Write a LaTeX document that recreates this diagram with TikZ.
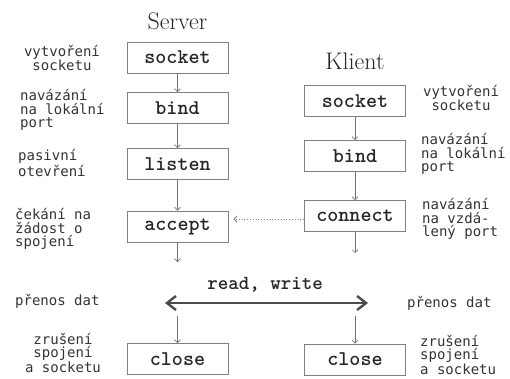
\documentclass[tikz,border=0pt]{standalone}
\usepackage{fontspec}
\usetikzlibrary{arrows.meta}
\newfontfamily\popisfont{DejaVu Sans Mono}

\begin{document}
\begin{tikzpicture}[x=1pt, y=-1pt,
  krok/.style={draw=black!50, line width=0.9pt, minimum width=101pt,
    minimum height=31pt, inner sep=0pt, text=black!85,
    font=\fontsize{21}{21}\selectfont\ttfamily\bfseries},
  popis/.style={font=\popisfont\fontsize{14}{13.5}\selectfont, align=left,
    anchor=west, inner sep=0pt, text=black!80},
  popisS/.style={popis, align=center, anchor=center},
  nadpis/.style={font=\fontsize{24}{24}\selectfont, text=black!85},
  sipka/.style={black!55, line width=0.6pt, -{Straight Barb[length=3pt,width=6pt]}},
  tecky/.style={black!50, dotted, line width=0.8pt, shorten >=5pt,
    -{Straight Barb[length=3pt,width=6pt]}},
  rwsipka/.style={black!70, line width=2.4pt,
    {Straight Barb[length=9pt,width=14pt]}-{Straight Barb[length=9pt,width=14pt]}}]

\def\SX{177.5}
\def\KX{355}

\useasboundingbox (0,0) rectangle (510,378);

% === NADPISY ===
\node[nadpis] (server) at (\SX,21) {Server};
\node[nadpis] (klient) at (\KX,61) {Klient};

% === SERVER ===
\node[krok] (s1) at (\SX,57.5) {socket};
\node[krok] (s2) at (\SX,108)  {bind};
\node[krok] (s3) at (\SX,164)  {listen};
\node[krok] (s4) at (\SX,226.5) {accept};
\node[krok] (s5) at (\SX,359)  {close};

% === KLIENT ===
\node[krok] (k1) at (\KX,101)  {socket};
\node[krok] (k2) at (\KX,156)  {bind};
\node[krok] (k3) at (\KX,216)  {connect};
\node[krok] (k4) at (\KX,359.5) {close};

% === SIPKY ===
\coordinate (s4d) at (\SX,262);
\coordinate (s5u) at (\SX,316);
\coordinate (k3d) at (\KX,253);
\coordinate (k4u) at (\KX,316);

\draw[sipka] (s1) -- (s2);
\draw[sipka] (s2) -- (s3);
\draw[sipka] (s3) -- (s4);
\draw[sipka] (s4) -- (s4d);
\draw[sipka] (s5u) -- (s5);

\draw[sipka] (k1) -- (k2);
\draw[sipka] (k2) -- (k3);
\draw[sipka] (k3) -- (k3d);
\draw[sipka] (k4u) -- (k4);

\coordinate (k3w) at ([yshift=-3pt]k3.west);
\draw[tecky] (k3w) -- (s4.east |- k3w);

% read, write
\coordinate (rwL) at (165,303);
\coordinate (rwR) at (368,303);
\draw[rwsipka] (rwL) -- (rwR);
\node[font=\fontsize{20}{20}\selectfont\ttfamily\bfseries, text=black!85] (rw) at (265,285) {read, write};

% === POPISY SERVER ===
\node[popisS] (ps1) at (62,58)  {vytvoření\\socketu};
\node[popis]  (ps2) at (20,110) {navázání\\na lokální\\port};
\node[popis]  (ps3) at (18,163) {pasivní\\otevření};
\node[popis]  (ps4) at (15,229) {čekání na\\žádost o\\spojení};
\node[popis]  (ps5) at (15,301) {přenos dat};
\node[popisS] (ps6) at (63,353) {zrušení\\spojení\\a socketu};

% === POPISY KLIENT ===
\node[popisS] (pk1) at (461,98)  {vytvoření\\socketu};
\node[popis]  (pk2) at (421,154) {navázání\\na lokální\\port};
\node[popis]  (pk3) at (422,219) {navázání\\na vzdá-\\lený port};
\node[popis]  (pk4) at (407,303) {přenos dat};
\node[popis]  (pk5) at (420,355) {zrušení\\spojení\\a socketu};

\end{tikzpicture}
\end{document}
